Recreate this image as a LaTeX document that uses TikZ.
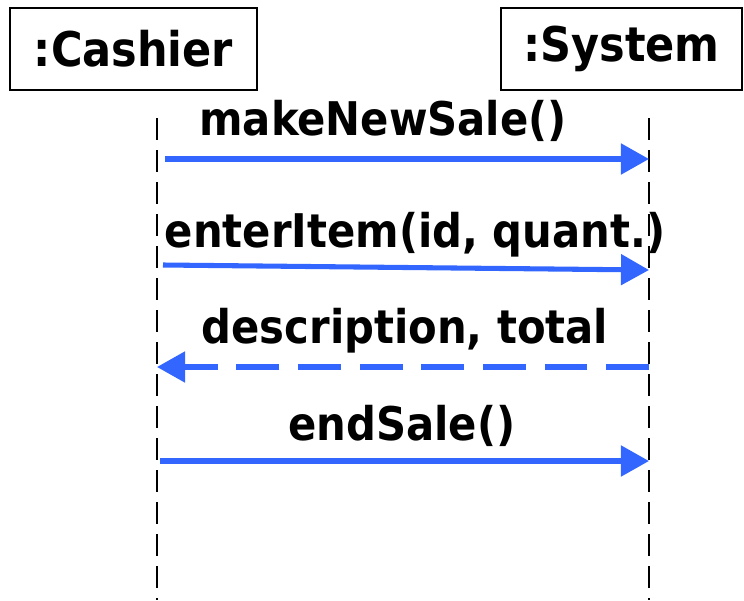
\documentclass[tikz,border=0pt]{standalone}
\usepackage{fontspec}
\setmainfont{DejaVu Sans Condensed}
\usetikzlibrary{arrows.meta, positioning, calc}
\definecolor{msgblue}{RGB}{51,102,255}
\tikzset{
  obj/.style={draw, line width=1.2pt, minimum height=2.05cm, inner sep=0pt,
    font=\fontsize{34}{40}\selectfont\bfseries},
  life/.style={line width=1.4pt, dash pattern=on 0.55cm off 0.25cm},
  msg/.style={msgblue, line width=3.6pt, -{Triangle[length=0.7cm, width=0.75cm]}},
  ret/.style={msg, dash pattern=on 1.07cm off 0.47cm},
  lbl/.style={inner sep=0pt, font=\fontsize{33}{40}\selectfont\bfseries},
}

\begin{document}
\begin{tikzpicture}[x=0.025cm, y=-0.025cm]
    \useasboundingbox (0,0) rectangle (744,600);
    % the two objects
    \node[obj, minimum width=6.18cm] (cashier) at (133.5,49) {:Cashier};
    \node[obj, minimum width=6.03cm] (system) at (621.5,49) {:System};
    % lifelines
    \coordinate (ctop) at (157,118);
    \coordinate (cbot) at (157,600);
    \coordinate (stop) at (649,118);
    \coordinate (sbot) at (649,600);
    \draw[life] (ctop) -- (cbot);
    \draw[life] (stop) -- (sbot);
    % message ends on the lifelines
    \coordinate (c1) at (165,159); \coordinate (s1) at (649,159);
    \coordinate (c2) at (163,265); \coordinate (s2) at (649,270);
    \coordinate (c3) at (157,367); \coordinate (s3) at (649,367);
    \coordinate (c4) at (160,461); \coordinate (s4) at (649,461);
    \draw[msg] (c1) -- (s1);
    \draw[msg] (c2) -- (s2);
    \draw[ret] (s3) -- (c3);
    \draw[msg] (c4) -- (s4);
    % labels
    \node[lbl, anchor=base] (m1) at (383,135) {makeNewSale()};
    \node[lbl, anchor=base] (m2) at (415,247) {enterItem(id, quant.)};
    \node[lbl, anchor=base] (m3) at (405,343) {description, total};
    \node[lbl, anchor=base] (m4) at (402,440) {endSale()};
\end{tikzpicture}
\end{document}
